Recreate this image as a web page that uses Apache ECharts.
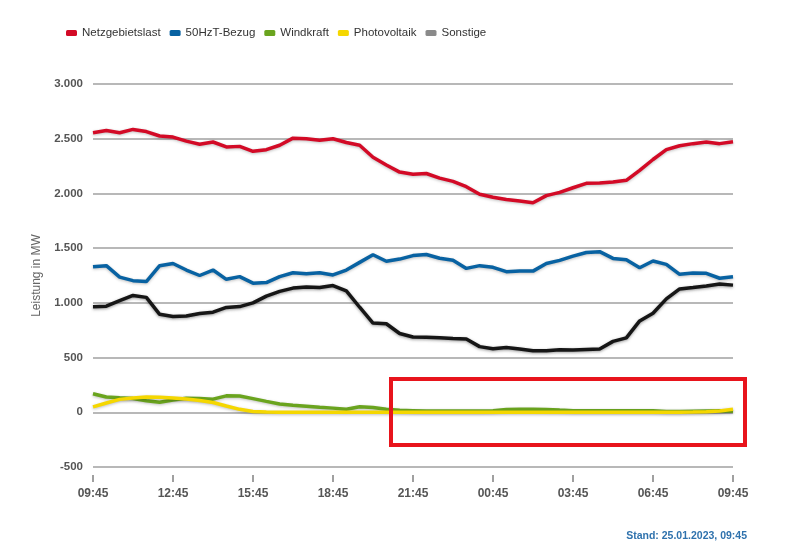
<!DOCTYPE html>
<html>
<head>
<meta charset="utf-8">
<script src="https://cdn.jsdelivr.net/npm/echarts@6/dist/echarts.min.js"></script>
<style>
  html, body { margin: 0; padding: 0; background: #fff; }
  #chart { width: 800px; height: 549px; }
</style>
</head>
<body>
<div id="chart"></div>
<script>
// Zeitachse (30-Minuten-Schritte)
const times = [
  '09:45','10:15','10:45','11:15','11:45','12:15','12:45','13:15','13:45','14:15',
  '14:45','15:15','15:45','16:15','16:45','17:15','17:45','18:15','18:45','19:15',
  '19:45','20:15','20:45','21:15','21:45','22:15','22:45','23:15','23:45','00:15',
  '00:45','01:15','01:45','02:15','02:45','03:15','03:45','04:15','04:45','05:15',
  '05:45','06:15','06:45','07:15','07:45','08:15','08:45','09:15','09:45'
];

const netzgebietslast = [
  2555, 2575, 2555, 2585, 2565, 2525, 2515, 2478, 2450, 2470,
  2425, 2430, 2385, 2400, 2440, 2505, 2500, 2485, 2500, 2465,
  2440, 2330, 2260, 2195, 2175, 2182, 2140, 2110, 2062, 1992,
  1965, 1945, 1930, 1915, 1980, 2010, 2052, 2092, 2095, 2105,
  2120, 2210, 2310, 2400, 2436, 2455, 2470, 2455, 2472
];

const bezug50HzT = [
  1330, 1340, 1235, 1203, 1195, 1340, 1360, 1300, 1250, 1300,
  1215, 1240, 1180, 1185, 1240, 1275, 1265, 1275, 1255, 1300,
  1370, 1440, 1380, 1400, 1432, 1442, 1408, 1390, 1315, 1340,
  1325, 1285, 1292, 1290, 1360, 1388, 1427, 1460, 1468, 1406,
  1394, 1321, 1382, 1352, 1261, 1272, 1270, 1225, 1238
];

const windkraft = [
  170, 140, 132, 125, 105, 92, 112, 128, 125, 120,
  150, 148, 125, 100, 76, 65, 55, 45, 38, 28,
  50, 44, 28, 18, 15, 12, 12, 12, 12, 12,
  15, 25, 27, 28, 26, 20, 15, 13, 13, 13,
  13, 13, 13, 7, 8, 10, 12, 14, 10
];

const photovoltaik = [
  50, 85, 118, 130, 140, 137, 131, 122, 108, 90,
  58, 27, 8, 3, 0, 0, 0, 0, 0, 0,
  0, 0, 0, 0, 0, 0, 0, 0, 0, 0,
  0, 0, 0, 0, 0, 0, 0, 0, 0, 0,
  0, 0, 0, 0, 0, 2, 5, 12, 28
];

const sonstige = [
  965, 970, 1020, 1068, 1050, 895, 876, 880, 903, 915,
  958, 966, 1000, 1062, 1105, 1135, 1145, 1140, 1158, 1110,
  960, 815, 809, 720, 688, 685, 681, 675, 670, 600,
  580, 592, 578, 562, 562, 572, 570, 574, 578, 648,
  680, 835, 905, 1036, 1127, 1140, 1155, 1172, 1162
];

const chart = echarts.init(document.getElementById('chart'));

// Linie mit leichtem Schatten wie im Original
function makeSeries(name, data, color, lineColor, shadow) {
  return {
    name: name,
    type: 'line',
    data: data,
    symbol: 'none',
    smooth: false,
    itemStyle: { color: color },
    lineStyle: {
      color: lineColor || color,
      width: 3.5,
      shadowColor: shadow || 'rgba(0,0,0,0.25)',
      shadowBlur: 3,
      shadowOffsetY: 1
    }
  };
}

function formatDe(v) {
  return String(v).replace(/\B(?=(\d{3})+(?!\d))/g, '.');
}

const labelFont = 'Liberation Sans, Arial, sans-serif';

const option = {
  backgroundColor: '#fff',
  animation: false,
  legend: {
    left: 61,
    top: 22,
    icon: 'roundRect',
    itemWidth: 11,
    itemHeight: 6,
    itemGap: 9,
    textStyle: {
      fontFamily: labelFont,
      fontSize: 11.5,
      color: '#333'
    }
  },
  grid: { left: 93, right: 67, top: 84, bottom: 82 },
  xAxis: {
    type: 'category',
    data: times,
    boundaryGap: false,
    offset: 8,
    axisLine: { show: false, onZero: false },
    axisTick: {
      show: true,
      interval: 5,
      length: 7,
      alignWithLabel: true,
      lineStyle: { color: '#a0a0a0', width: 2 }
    },
    axisLabel: {
      interval: 5,
      margin: 13,
      color: '#555',
      fontWeight: 'bold',
      fontSize: 12,
      fontFamily: labelFont
    },
    splitLine: { show: false }
  },
  yAxis: {
    type: 'value',
    min: -500,
    max: 3000,
    interval: 500,
    name: 'Leistung in MW',
    nameLocation: 'middle',
    nameGap: 50,
    nameTextStyle: { color: '#666', fontSize: 12, fontFamily: labelFont },
    axisLine: { show: false },
    axisTick: { show: false },
    axisLabel: {
      margin: 10,
      color: '#555',
      fontWeight: 'bold',
      fontSize: 11.5,
      fontFamily: labelFont,
      formatter: formatDe
    },
    splitLine: { lineStyle: { color: '#b8b8b8', width: 2 } }
  },
  series: [
    makeSeries('Netzgebietslast', netzgebietslast, '#d30a26'),
    makeSeries('50HzT-Bezug', bezug50HzT, '#0862a2'),
    makeSeries('Windkraft', windkraft, '#6aa41e'),
    makeSeries('Photovoltaik', photovoltaik, '#f5d700'),
    makeSeries('Sonstige', sonstige, '#8a8a8a', '#161616', 'rgba(90,90,90,0.6)')
  ],
  graphic: [
    {
      type: 'rect',
      z: 100,
      shape: { x: 391, y: 379, width: 354, height: 66 },
      style: { fill: 'none', stroke: '#e8141c', lineWidth: 4 }
    },
    {
      type: 'text',
      right: 53,
      top: 531,
      style: {
        text: 'Stand: 25.01.2023, 09:45',
        fill: '#2f72ad',
        font: 'bold 10.5px Liberation Sans, Arial, sans-serif'
      }
    }
  ]
};

chart.setOption(option);
</script>
</body>
</html>
